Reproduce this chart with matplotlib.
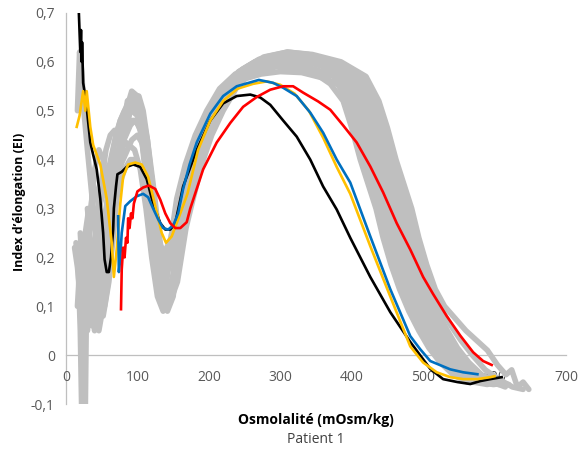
import matplotlib
matplotlib.use('Agg')
from matplotlib import pyplot as plt

plt.rcParams['font.family'] = ['Open Sans', 'DejaVu Sans']

# reference curves (gray), one (x, y) pair per curve
gray_curves = [
    ([16, 19, 22, 25, 30, 36, 42, 48, 55, 62, 70, 78, 86, 95, 104, 112, 120, 128, 136,
      148, 160, 172, 186, 202, 220, 242, 265, 295, 325, 350, 370, 388, 400, 412, 423, 434, 444, 455, 467, 480, 494, 508, 524, 542, 562],
     [0.50, 0.62, 0.58, 0.50, 0.42, 0.33, 0.25, 0.18, 0.14, 0.20, 0.32, 0.44, 0.52, 0.53, 0.47, 0.36, 0.24, 0.16, 0.14,
      0.2, 0.3, 0.38, 0.45, 0.5, 0.545, 0.56, 0.58, 0.59, 0.585, 0.575, 0.555, 0.52, 0.465, 0.40, 0.35, 0.30, 0.24, 0.185, 0.135, 0.09, 0.05, 0.015, -0.015, -0.04, -0.055]),
    ([14, 17, 20, 22, 24, 26, 28, 32, 38, 45, 52, 60, 68, 76, 84, 92, 100, 108, 116, 124, 132, 140,
      150, 157, 165, 177, 191, 207, 225, 247, 270, 300, 330, 360, 380, 398, 410, 422, 433, 444, 454, 465, 477, 490, 504, 518, 534, 552, 572],
     [0.23, 0.18, 0.05, -0.12, -0.12, 0.08, 0.2, 0.25, 0.2, 0.12, 0.08, 0.15, 0.3, 0.42, 0.5, 0.54, 0.53, 0.48, 0.38, 0.26, 0.16, 0.12,
      0.15, 0.26, 0.32, 0.39, 0.45, 0.5, 0.545, 0.585, 0.605, 0.615, 0.61, 0.595, 0.57, 0.52, 0.465, 0.40, 0.35, 0.30, 0.24, 0.185, 0.135, 0.09, 0.05, 0.015, -0.015, -0.04, -0.055]),
    ([20, 24, 28, 33, 38, 44, 50, 56, 62, 68, 74, 80, 88, 96, 104, 112, 120, 128, 136, 144,
      152, 162, 170, 182, 196, 212, 230, 252, 275, 300, 335, 370, 390, 408, 420, 432, 443, 454, 464, 475, 487, 500, 514, 528, 544, 562, 582],
     [0.25, 0.15, 0.22, 0.1, 0.18, 0.28, 0.36, 0.42, 0.45, 0.46, 0.45, 0.44, 0.43, 0.42, 0.38, 0.3, 0.2, 0.12, 0.09, 0.12,
      0.18, 0.26, 0.32, 0.39, 0.45, 0.5, 0.545, 0.58, 0.6, 0.61, 0.605, 0.59, 0.57, 0.52, 0.465, 0.40, 0.35, 0.30, 0.24, 0.185, 0.135, 0.09, 0.05, 0.015, -0.015, -0.04, -0.055]),
    ([22, 26, 30, 34, 40, 46, 52, 58, 64, 70, 76, 82, 88, 94, 100, 106, 112, 118, 124, 130, 138, 146,
      156, 167, 175, 187, 201, 217, 235, 257, 280, 310, 340, 375, 405, 423, 435, 447, 458, 469, 479, 490, 502, 515, 529, 543, 559, 577, 597, 615],
     [0.2, 0.1, 0.05, 0.15, 0.1, 0.05, 0.1, 0.2, 0.3, 0.38, 0.44, 0.48, 0.5, 0.51, 0.5, 0.46, 0.38, 0.28, 0.2, 0.14, 0.1, 0.12,
      0.18, 0.26, 0.32, 0.39, 0.45, 0.5, 0.545, 0.585, 0.61, 0.62, 0.615, 0.6, 0.57, 0.52, 0.465, 0.40, 0.35, 0.30, 0.24, 0.185, 0.135, 0.09, 0.05, 0.015, -0.015, -0.04, -0.055, -0.065]),
    ([18, 22, 27, 32, 38, 44, 50, 56, 62, 68, 75, 82, 90, 98, 106, 114, 122, 130, 138,
      147, 157, 169, 183, 199, 217, 239, 262, 295, 325, 355, 375, 393, 405, 417, 428, 439, 449, 460, 472, 485, 499, 513, 529, 547, 567],
     [0.22, 0.2, 0.25, 0.3, 0.28, 0.22, 0.18, 0.2, 0.25, 0.3, 0.35, 0.38, 0.4, 0.4, 0.38, 0.34, 0.28, 0.23, 0.21,
      0.24, 0.32, 0.39, 0.45, 0.5, 0.545, 0.57, 0.59, 0.60, 0.595, 0.58, 0.57, 0.52, 0.465, 0.40, 0.35, 0.30, 0.24, 0.185, 0.135, 0.09, 0.05, 0.015, -0.015, -0.04, -0.055]),
    ([25, 30, 35, 40, 46, 52, 58, 64, 70, 76, 82, 90, 98, 106, 114, 122, 130, 138, 146,
      154, 160, 165, 177, 191, 207, 225, 247, 270, 300, 340, 380, 415, 433, 445, 457, 468, 479, 489, 500, 512, 525, 539, 553, 569, 587, 607, 625, 640],
     [0.12, 0.2, 0.3, 0.38, 0.42, 0.4, 0.35, 0.3, 0.32, 0.38, 0.45, 0.5, 0.52, 0.5, 0.44, 0.35, 0.25, 0.17, 0.13,
      0.17, 0.26, 0.32, 0.39, 0.45, 0.5, 0.545, 0.575, 0.595, 0.605, 0.6, 0.59, 0.57, 0.52, 0.465, 0.40, 0.35, 0.30, 0.24, 0.185, 0.135, 0.095, 0.06, 0.03, 0.0, -0.03, -0.05, -0.065, -0.07]),
    ([30, 35, 40, 45, 50, 56, 62, 68, 74, 80, 86, 92, 100, 108, 116, 124, 132, 140, 148,
      158, 168, 180, 194, 210, 228, 250, 273, 300, 330, 365, 385, 403, 415, 427, 438, 449, 459, 470, 482, 495, 509, 523, 539, 557, 577, 600],
     [0.3, 0.22, 0.12, 0.08, 0.12, 0.2, 0.28, 0.34, 0.38, 0.4, 0.42, 0.44, 0.45, 0.43, 0.37, 0.28, 0.2, 0.15, 0.14,
      0.26, 0.32, 0.39, 0.45, 0.5, 0.54, 0.565, 0.575, 0.58, 0.578, 0.565, 0.55, 0.52, 0.465, 0.40, 0.35, 0.30, 0.24, 0.185, 0.135, 0.09, 0.05, 0.015, -0.015, -0.04, -0.055, -0.06]),
    ([24, 28, 32, 36, 40, 44, 48, 54, 60, 66, 72, 78, 84, 90, 96, 102, 108, 114, 120, 126, 132, 140,
      150, 160, 172, 186, 202, 220, 242, 265, 295, 330, 365, 398, 416, 428, 440, 451, 462, 472, 483, 495, 508, 522, 536, 552, 570, 590, 610],
     [0.15, 0.25, 0.18, 0.06, 0.15, 0.3, 0.2, 0.1, 0.16, 0.24, 0.34, 0.42, 0.47, 0.5, 0.52, 0.53, 0.5, 0.44, 0.36, 0.27, 0.2, 0.14,
      0.26, 0.32, 0.39, 0.45, 0.5, 0.545, 0.58, 0.6, 0.61, 0.605, 0.595, 0.57, 0.52, 0.465, 0.40, 0.35, 0.30, 0.24, 0.185, 0.135, 0.09, 0.05, 0.015, -0.015, -0.04, -0.055, -0.06]),
    ([40, 46, 52, 58, 64, 70, 76, 82, 88, 94, 100, 106, 112, 118, 124, 130, 136, 142,
      150, 162, 172, 184, 198, 214, 232, 254, 277, 310, 345, 385, 420, 438, 450, 462, 473, 484, 494, 505, 517, 530, 545, 560, 575, 590, 604, 616, 624, 632, 640, 648],
     [0.28, 0.3, 0.33, 0.37, 0.41, 0.45, 0.48, 0.5, 0.52, 0.53, 0.53, 0.5, 0.43, 0.33, 0.23, 0.15, 0.1, 0.09,
      0.12, 0.26, 0.32, 0.39, 0.45, 0.5, 0.545, 0.59, 0.61, 0.62, 0.615, 0.6, 0.57, 0.52, 0.465, 0.40, 0.35, 0.30, 0.24, 0.185, 0.135, 0.1, 0.075, 0.05, 0.03, 0.01, -0.02, -0.04, -0.03, -0.065, -0.055, -0.07]),
    ([16, 20, 25, 27, 29, 32, 38, 44, 50, 56, 62, 68, 74, 80, 86, 92, 98, 104, 110, 116, 122, 128, 134, 140,
      153, 163, 175, 189, 205, 223, 245, 268, 300, 335, 375, 395, 413, 425, 437, 448, 459, 469, 480, 492, 505, 519, 533, 549, 567, 587, 606],
     [0.1, 0.2, -0.12, -0.12, 0.15, 0.25, 0.35, 0.32, 0.25, 0.3, 0.36, 0.4, 0.42, 0.44, 0.46, 0.48, 0.48, 0.46, 0.4, 0.32, 0.25, 0.2, 0.18, 0.19,
      0.26, 0.32, 0.39, 0.45, 0.5, 0.545, 0.58, 0.6, 0.61, 0.605, 0.59, 0.57, 0.52, 0.465, 0.40, 0.35, 0.30, 0.24, 0.185, 0.135, 0.09, 0.05, 0.015, -0.015, -0.04, -0.055, -0.06]),
    ([35, 40, 46, 52, 58, 64, 70, 76, 82, 88, 96, 104, 112, 120, 128, 136,
      140, 147, 155, 167, 181, 197, 215, 237, 260, 290, 325, 358, 378, 396, 408, 420, 431, 442, 452, 463, 475, 488, 502, 516, 532, 550, 570, 590],
     [0.15, 0.08, 0.12, 0.22, 0.32, 0.4, 0.45, 0.48, 0.5, 0.51, 0.52, 0.5, 0.45, 0.36, 0.26, 0.18,
      0.15, 0.24, 0.32, 0.39, 0.45, 0.5, 0.545, 0.575, 0.59, 0.60, 0.595, 0.58, 0.57, 0.52, 0.465, 0.40, 0.35, 0.30, 0.24, 0.185, 0.135, 0.09, 0.05, 0.015, -0.015, -0.04, -0.055, -0.06]),
    ([45, 50, 55, 60, 66, 72, 78, 84, 90, 96, 102, 108, 114, 120, 126, 132, 138, 146, 156,
      168, 178, 190, 204, 220, 238, 260, 283, 310, 345, 385, 410, 428, 440, 452, 463, 474, 484, 495, 507, 520, 534, 548, 564, 582, 602, 620],
     [0.1, 0.15, 0.22, 0.3, 0.36, 0.4, 0.43, 0.45, 0.47, 0.48, 0.47, 0.44, 0.38, 0.3, 0.22, 0.16, 0.12, 0.11, 0.15,
      0.26, 0.32, 0.39, 0.45, 0.5, 0.545, 0.58, 0.6, 0.61, 0.605, 0.59, 0.57, 0.52, 0.465, 0.40, 0.35, 0.30, 0.24, 0.185, 0.135, 0.09, 0.05, 0.015, -0.015, -0.04, -0.055, -0.06]),
    ([12, 16, 20, 24, 28, 32, 36, 40, 44, 48, 52, 56, 60, 64, 68, 72, 76, 80, 86, 92,
      100, 108, 116, 124, 132, 140, 150, 160, 172, 186, 202, 220, 242, 265, 295, 325, 360, 385, 403, 415,
      427, 438, 449, 459, 470, 482, 495, 509, 523, 539, 557, 577, 598],
     [0.22, 0.18, 0.12, 0.2, 0.1, 0.2, 0.14, 0.05, 0.12, 0.2, 0.15, 0.25, 0.2, 0.3, 0.35, 0.4, 0.44, 0.47, 0.49, 0.5,
      0.49, 0.45, 0.36, 0.25, 0.15, 0.1, 0.14, 0.24, 0.34, 0.43, 0.5, 0.545, 0.58, 0.6, 0.61, 0.605, 0.59, 0.57, 0.52, 0.465,
      0.40, 0.35, 0.30, 0.24, 0.185, 0.135, 0.09, 0.05, 0.015, -0.015, -0.04, -0.055, -0.06]),
]

black_x = [18, 20, 21, 22, 22.5, 24, 28, 34, 38, 43, 48, 52, 54, 57, 60, 63, 66, 67, 70, 72, 78, 85, 94, 104, 113, 122, 132, 139, 146, 153, 164, 183, 202, 220, 239, 258, 272, 286, 304, 323, 342, 360, 379, 398, 426, 454, 482, 510, 528, 548, 566, 580, 594, 610]
black_y = [0.70, 0.62, 0.665, 0.60, 0.64, 0.557, 0.52, 0.435, 0.41, 0.38, 0.32, 0.25, 0.196, 0.17, 0.17, 0.20, 0.257, 0.30, 0.345, 0.37, 0.375, 0.385, 0.39, 0.385, 0.36, 0.31, 0.27, 0.257, 0.257, 0.27, 0.345, 0.42, 0.48, 0.515, 0.53, 0.533, 0.527, 0.512, 0.48, 0.447, 0.40, 0.345, 0.298, 0.24, 0.16, 0.088, 0.027, -0.028, -0.049, -0.055, -0.059, -0.053, -0.049, -0.045]

yellow_x = [15, 19, 24, 27, 29, 34, 38, 43, 48, 57, 64, 67, 71, 76, 80, 87, 97, 106, 115, 125, 134, 140, 148, 157, 170, 185, 202, 220, 240, 262, 281, 300, 320, 340, 360, 379, 398, 426, 454, 482, 500, 519, 538, 556, 576, 594, 600]
yellow_y = [0.467, 0.49, 0.54, 0.50, 0.54, 0.467, 0.43, 0.41, 0.39, 0.32, 0.23, 0.16, 0.216, 0.31, 0.365, 0.39, 0.394, 0.39, 0.365, 0.305, 0.25, 0.23, 0.243, 0.278, 0.33, 0.42, 0.48, 0.52, 0.545, 0.555, 0.56, 0.553, 0.535, 0.50, 0.445, 0.385, 0.33, 0.223, 0.12, 0.018, -0.015, -0.035, -0.045, -0.049, -0.049, -0.045, -0.043]

blue_x = [73, 74, 76, 78, 83, 90, 99, 108, 115, 122, 129, 136, 143, 150, 157, 164, 173, 183, 202, 220, 239, 270, 290, 304, 323, 342, 360, 379, 398, 426, 454, 482, 496, 510, 538, 556, 576]
blue_y = [0.284, 0.17, 0.2, 0.25, 0.305, 0.315, 0.325, 0.33, 0.323, 0.30, 0.278, 0.26, 0.257, 0.265, 0.29, 0.34, 0.39, 0.435, 0.494, 0.53, 0.55, 0.563, 0.557, 0.547, 0.53, 0.496, 0.455, 0.40, 0.353, 0.243, 0.135, 0.039, 0.012, -0.012, -0.029, -0.035, -0.039]

red_x = [77, 78, 80, 82, 84, 86, 87, 89, 91, 93, 95, 97, 100, 108, 116, 125, 132, 139, 146, 153, 160, 169, 174, 192, 211, 230, 248, 267, 286, 304, 318, 332, 353, 370, 388, 407, 426, 444, 463, 482, 500, 514, 533, 552, 570, 584, 596]
red_y = [0.094, 0.175, 0.22, 0.2, 0.24, 0.23, 0.28, 0.26, 0.29, 0.28, 0.31, 0.32, 0.335, 0.343, 0.347, 0.34, 0.318, 0.29, 0.27, 0.26, 0.26, 0.272, 0.3, 0.38, 0.435, 0.475, 0.508, 0.528, 0.543, 0.55, 0.55, 0.537, 0.519, 0.502, 0.47, 0.435, 0.386, 0.333, 0.27, 0.216, 0.16, 0.125, 0.08, 0.04, 0.006, -0.012, -0.02]

x_ticks = [0, 100, 200, 300, 400, 500, 600, 700]
y_ticks = [-0.1, 0, 0.1, 0.2, 0.3, 0.4, 0.5, 0.6, 0.7]
y_tick_labels = ['-0,1', '0', '0,1', '0,2', '0,3', '0,4', '0,5', '0,6', '0,7']

fig = plt.figure(figsize=(5.79, 4.54), dpi=100)
ax = fig.add_axes([0.114, 0.110, 0.8635, 0.8615])

for gx, gy in gray_curves:
    ax.plot(gx, gy, color='#BFBFBF', lw=4.0, solid_capstyle='round', solid_joinstyle='round')

ax.plot(black_x, black_y, color='black', lw=1.9)
ax.plot(yellow_x, yellow_y, color='#FFC000', lw=1.9)
ax.plot(blue_x, blue_y, color='#0070C0', lw=1.9)
ax.plot(red_x, red_y, color='#FF0000', lw=1.9)

ax.set_xlim(0, 700)
ax.set_ylim(-0.1, 0.7)
ax.set_xticks(x_ticks)
ax.set_yticks(y_ticks)
ax.set_yticklabels(y_tick_labels)

ax.spines['top'].set_visible(False)
ax.spines['right'].set_visible(False)
ax.spines['bottom'].set_position(('data', 0))
for s in ('left', 'bottom'):
    ax.spines[s].set_color('#BFBFBF')
    ax.spines[s].set_linewidth(0.9)
    ax.spines[s].set_zorder(0.5)
ax.tick_params(length=0, labelsize=10, colors='#595959')
ax.tick_params(axis='x', pad=11)
ax.tick_params(axis='y', pad=8)

fig.text(0.546, 0.075, 'Osmolalité (mOsm/kg)', ha='center', va='center', fontsize=10, fontweight='bold', color='black')
fig.text(0.546, 0.031, 'Patient 1', ha='center', va='center', fontsize=10, color='#404040')
fig.text(0.0345, 0.555, 'Index d’élongation (EI)', ha='center', va='center', rotation=90, fontsize=9, fontweight='bold', color='black')

fig.savefig('out.png', dpi=100)
